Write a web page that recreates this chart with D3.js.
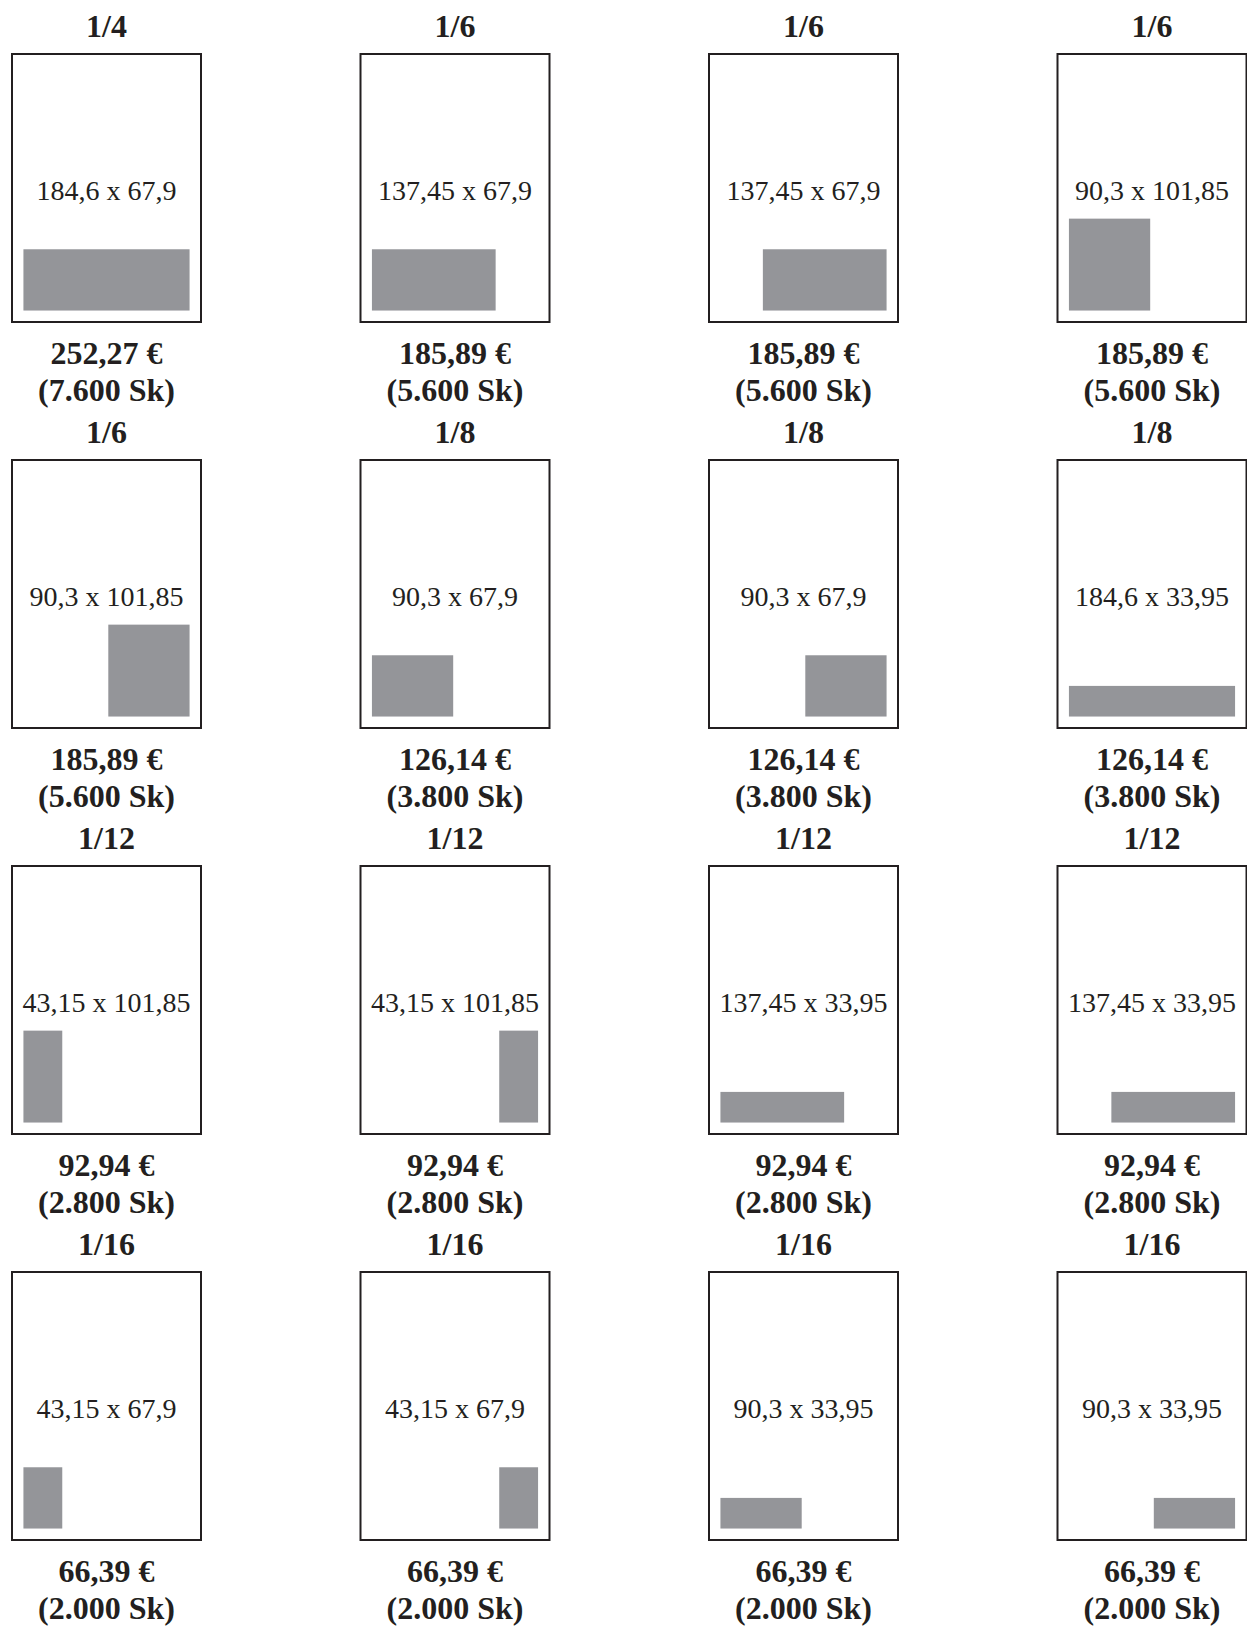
<!DOCTYPE html>
<html>
<head>
<meta charset="utf-8">
<script src="https://cdn.jsdelivr.net/npm/d3@7"></script>
<style>
  html, body { margin: 0; padding: 0; background: #fff; }
  svg { display: block; }
</style>
</head>
<body>
<svg id="chart" width="1247" height="1626"></svg>
<script>
// ---- data ----
const fractions = ["1/4","1/6","1/6","1/6","1/6","1/8","1/8","1/8","1/12","1/12","1/12","1/12","1/16","1/16","1/16","1/16"];
const adWidthsMM = [184.6,137.45,137.45,90.3,90.3,90.3,90.3,184.6,43.15,43.15,137.45,137.45,43.15,43.15,90.3,90.3];
const adHeightsMM = [67.9,67.9,67.9,101.85,101.85,67.9,67.9,33.95,101.85,101.85,33.95,33.95,67.9,67.9,33.95,33.95];
const alignments = ["left","left","right","left","right","left","right","left","left","right","left","right","left","right","left","right"];
const pricesEUR = [252.27,185.89,185.89,185.89,185.89,126.14,126.14,126.14,92.94,92.94,92.94,92.94,66.39,66.39,66.39,66.39];
const pricesSK = [7600,5600,5600,5600,5600,3800,3800,3800,2800,2800,2800,2800,2000,2000,2000,2000];
const pageMM = [210, 297];
const marginMM = 12.7;

// ---- layout ----
const svg = d3.select("#chart");
const boxW = 189, boxH = 268;
const colX = d3.scalePoint().domain([0,1,2,3]).range([12, 1057.5]);
const rowY = d3.scalePoint().domain([0,1,2,3]).range([54, 1272]);
const mmX = d3.scaleLinear().domain([0, pageMM[0]]).range([0, boxW]);
const mmY = d3.scaleLinear().domain([0, pageMM[1]]).range([0, boxH]);

const sk = d3.formatLocale({decimal: ",", thousands: ".", grouping: [3], currency: ["", " €"]});
const fEUR = sk.format(",.2f");
const fSK = sk.format(",.0f");
const fDim = sk.format(".2~f");

const textColor = "#231f20";
const fontFam = "'Liberation Serif', 'Times New Roman', serif";

const data = fractions.map((f, i) => ({
  frac: f, w: adWidthsMM[i], h: adHeightsMM[i], align: alignments[i],
  eur: pricesEUR[i], sk: pricesSK[i], col: i % 4, row: Math.floor(i / 4)
}));

const g = svg.selectAll("g.cell").data(data).join("g")
  .attr("class", "cell")
  .attr("transform", d => `translate(${colX(d.col)},${rowY(d.row)})`);

g.append("rect")
  .attr("x", 0).attr("y", 0).attr("width", boxW).attr("height", boxH)
  .attr("fill", "#fff").attr("stroke", "#231f20").attr("stroke-width", 2);

g.append("rect")
  .attr("x", d => d.align === "left" ? mmX(marginMM) : mmX(pageMM[0] - marginMM - d.w))
  .attr("y", d => mmY(pageMM[1] - marginMM - d.h))
  .attr("width", d => mmX(d.w))
  .attr("height", d => mmY(d.h))
  .attr("fill", "#949599");

g.append("text")
  .attr("x", boxW / 2).attr("y", 146)
  .attr("text-anchor", "middle")
  .attr("font-family", fontFam).attr("font-size", 28)
  .attr("fill", textColor)
  .text(d => `${fDim(d.w)} x ${fDim(d.h)}`);

g.append("text")
  .attr("x", boxW / 2).attr("y", -17)
  .attr("text-anchor", "middle")
  .attr("font-family", fontFam).attr("font-size", 32).attr("font-weight", "bold")
  .attr("fill", textColor)
  .text(d => d.frac);

g.append("text")
  .attr("x", boxW / 2).attr("y", boxH + 42)
  .attr("text-anchor", "middle")
  .attr("font-family", fontFam).attr("font-size", 32).attr("font-weight", "bold")
  .attr("fill", textColor)
  .text(d => `${fEUR(d.eur)} €`);

g.append("text")
  .attr("x", boxW / 2).attr("y", boxH + 79)
  .attr("text-anchor", "middle")
  .attr("font-family", fontFam).attr("font-size", 32).attr("font-weight", "bold")
  .attr("fill", textColor)
  .text(d => `(${fSK(d.sk)} Sk)`);
</script>
</body>
</html>
